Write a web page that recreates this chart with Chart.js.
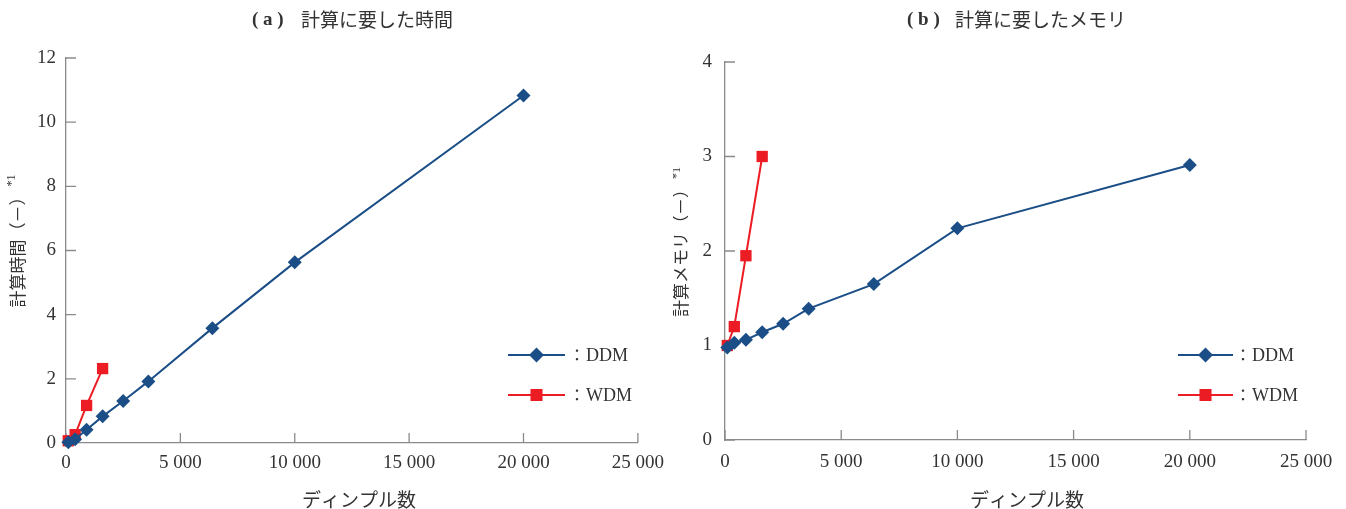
<!DOCTYPE html>
<html>
<head>
<meta charset="utf-8">
<script src="https://cdn.jsdelivr.net/npm/chart.js@4.4.1/dist/chart.umd.min.js"></script>
<style>
html,body{margin:0;padding:0;background:#fff;overflow:hidden;}
#wrap{width:1346px;height:509px;display:flex;}
canvas{display:block;}
</style>
</head>
<body>
<div id="wrap">
<canvas id="ca" width="673" height="509"></canvas>
<canvas id="cb" width="673" height="509"></canvas>
</div>
<script>
// ---- data ----
const dimplesDDM = [100, 400, 900, 1600, 2500, 3600, 6400, 10000, 20000];
const dimplesWDM = [100, 400, 900, 1600];
const timeDDM = [0.02, 0.12, 0.41, 0.83, 1.31, 1.92, 3.58, 5.63, 10.83];
const timeWDM = [0.07, 0.26, 1.17, 2.32];
const memDDM = [0.98, 1.03, 1.06, 1.14, 1.23, 1.39, 1.65, 2.24, 2.91];
const memWDM = [1.00, 1.20, 1.95, 3.00];
const xTickValues = [0, 5000, 10000, 15000, 20000, 25000];
const xTickLabels = ['0', '5 000', '10 000', '15 000', '20 000', '25 000'];
const yTicksA = [0, 2, 4, 6, 8, 10, 12];
const yTicksB = [0, 1, 2, 3, 4];
const seriesNames = ['DDM', 'WDM'];
const titleA = ['( a )', '計算に要した時間'];
const titleB = ['( b )', '計算に要したメモリ'];
const yTitleA = ['計算時間（－）', '*1'];
const yTitleB = ['計算メモリ（－）', '*1'];
const xTitle = 'ディンプル数';

const BLUE = '#1b4e87';
const RED = '#ec1c24';
const AXIS = '#8a8a8a';
const TXT = '#333333';
const SERIF = '"Liberation Serif", "Times New Roman", serif';
const JP = '"Noto Sans CJK JP", "Noto Sans", sans-serif';

function pts(xs, ys) { return xs.map((x, i) => ({x: x, y: ys[i]})); }

function drawMarker(ctx, style, x, y, r, color) {
  ctx.fillStyle = color;
  ctx.beginPath();
  if (style === 'rectRot') {
    ctx.moveTo(x - r, y); ctx.lineTo(x, y - r); ctx.lineTo(x + r, y); ctx.lineTo(x, y + r);
  } else {
    const s = r * Math.SQRT1_2;
    ctx.rect(x - s, y - s, 2 * s, 2 * s);
  }
  ctx.closePath();
  ctx.fill();
}

const decor = {
  id: 'decor',
  beforeDatasetsDraw(chart, args, o) {
    const {ctx, chartArea: ca} = chart;
    const xs = chart.scales.x, ys = chart.scales.y;
    ctx.save();
    ctx.strokeStyle = AXIS; ctx.lineWidth = 1.3;
    ctx.beginPath();
    xs.ticks.forEach(t => { const p = xs.getPixelForValue(t.value); ctx.moveTo(p, ca.bottom); ctx.lineTo(p, ca.bottom - 10); });
    ys.ticks.forEach(t => { const p = ys.getPixelForValue(t.value); ctx.moveTo(ca.left, p); ctx.lineTo(ca.left + 10, p); });
    ctx.stroke();
    ctx.restore();
  },
  afterDraw(chart, args, o) {
    const {ctx} = chart;
    ctx.save();
    ctx.fillStyle = TXT;
    ctx.textBaseline = 'middle';
    // main title
    ctx.textAlign = 'left';
    ctx.font = 'bold 19px ' + SERIF;
    ctx.fillText(o.title[0], o.titleX1, o.titleY);
    ctx.font = '19px ' + JP;
    ctx.fillText(o.title[1], o.titleX2, o.titleY);
    // x title
    ctx.textAlign = 'center';
    ctx.font = '19px ' + JP;
    ctx.fillText(xTitle, o.xTitleX, o.xTitleY);
    // y title (rotated)
    ctx.save();
    ctx.translate(o.yTitleX, o.yTitleY);
    ctx.rotate(-Math.PI / 2);
    ctx.textAlign = 'left';
    ctx.font = '17px ' + JP;
    const wm = ctx.measureText(o.yTitle[0]).width;
    ctx.font = '12px ' + SERIF;
    const ws = ctx.measureText(o.yTitle[1]).width;
    const start = -(wm + 2 + ws) / 2;
    ctx.font = '17px ' + JP;
    ctx.fillText(o.yTitle[0], start, 0);
    ctx.font = '12px ' + SERIF;
    ctx.fillText(o.yTitle[1], start + wm + 2, o.supOff);
    ctx.restore();
    // legend
    chart.data.datasets.forEach((ds, i) => {
      const y = o.legY[i];
      ctx.strokeStyle = ds.borderColor; ctx.lineWidth = 2;
      ctx.beginPath(); ctx.moveTo(o.legX1, y); ctx.lineTo(o.legX2, y); ctx.stroke();
      drawMarker(ctx, ds.pointStyle, (o.legX1 + o.legX2) / 2, y, ds.pointStyle === 'rect' ? 8.5 : 7.5, ds.borderColor);
      ctx.fillStyle = TXT;
      ctx.textAlign = 'center';
      ctx.font = '16px ' + JP;
      ctx.fillText('：', o.legColonX, y);
      ctx.textAlign = 'left';
      ctx.font = '18px ' + SERIF;
      ctx.fillText(ds.label, o.legTextX, y + 1);
    });
    ctx.restore();
  }
};

function makeChart(id, ddm, wdm, yTicks, yMax, geo, plugOpts) {
  return new Chart(document.getElementById(id), {
    type: 'line',
    data: {
      datasets: [
        {label: seriesNames[0], data: pts(dimplesDDM, ddm), borderColor: BLUE, backgroundColor: BLUE,
         borderWidth: 2, pointStyle: 'rectRot', pointRadius: 7, pointBorderWidth: 0, pointBackgroundColor: BLUE, clip: false},
        {label: seriesNames[1], data: pts(dimplesWDM, wdm), borderColor: RED, backgroundColor: RED,
         borderWidth: 2, pointStyle: 'rect', pointRadius: 8, pointBorderWidth: 0, pointBackgroundColor: RED, clip: false}
      ]
    },
    options: {
      responsive: false,
      animation: false,
      devicePixelRatio: 1,
      layout: {padding: {left: 0, top: geo.top, right: geo.right, bottom: 0}},
      plugins: {legend: {display: false}, title: {display: false}, tooltip: {enabled: false}, decor: plugOpts},
      elements: {line: {tension: 0}},
      scales: {
        x: {
          type: 'linear', min: 0, max: 25000,
          afterBuildTicks: s => { s.ticks = xTickValues.map(v => ({value: v})); },
          afterFit: s => { s.height = geo.xh; },
          grid: {display: false, drawTicks: false},
          border: {display: true, color: AXIS, width: 1.3},
          ticks: {padding: geo.xpad, color: TXT, font: {family: SERIF, size: 19}, maxRotation: 0,
                  callback: (v) => xTickLabels[xTickValues.indexOf(v)]}
        },
        y: {
          type: 'linear', min: 0, max: yMax,
          afterBuildTicks: s => { s.ticks = yTicks.map(v => ({value: v})); },
          afterFit: s => { s.width = geo.yw; },
          grid: {display: false, drawTicks: false},
          border: {display: true, color: AXIS, width: 1.3},
          ticks: {padding: geo.ypad, color: TXT, font: {family: SERIF, size: 19}, callback: v => String(v)}
        }
      }
    },
    plugins: [decor]
  });
}

makeChart('ca', timeDDM, timeWDM, yTicksA, 12,
  {top: 58, right: 33, xh: 66, yw: 66, xpad: 9, ypad: 10},
  {title: titleA, titleX1: 252, titleX2: 301, titleY: 20,
   xTitleX: 359, xTitleY: 500, yTitle: yTitleA, yTitleX: 18, yTitleY: 241, supOff: -6,
   legX1: 508, legX2: 565, legY: [355, 395], legColonX: 577, legTextX: 586});

makeChart('cb', memDDM, memWDM, yTicksB, 4,
  {top: 62, right: 40, xh: 69, yw: 52, xpad: 11, ypad: 13},
  {title: titleB, titleX1: 234, titleX2: 282, titleY: 20,
   xTitleX: 354, xTitleY: 500, yTitle: yTitleB, yTitleX: 8, yTitleY: 242, supOff: -4,
   legX1: 505, legX2: 560, legY: [355, 395], legColonX: 570, legTextX: 579});
</script>
</body>
</html>
